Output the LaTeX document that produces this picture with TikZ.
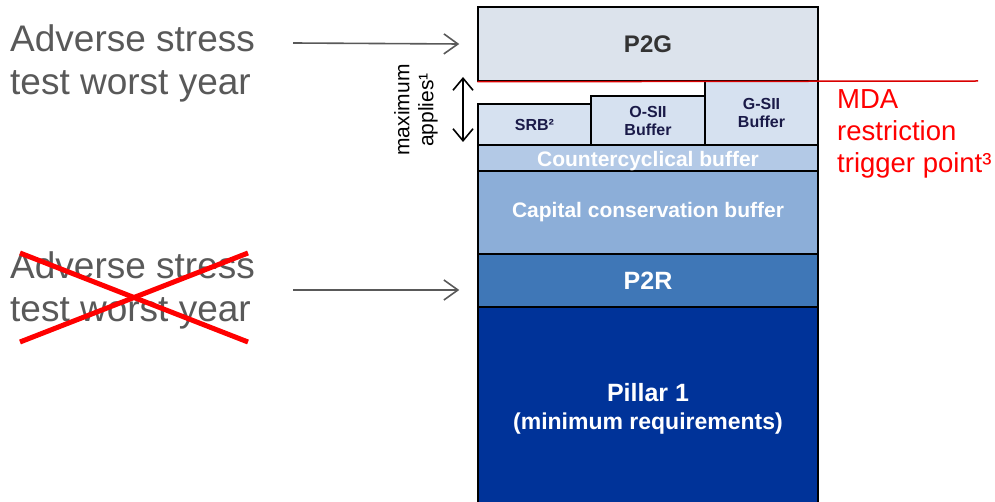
\documentclass[tikz,border=0pt]{standalone}
\usepackage{fontspec}
\setmainfont{Liberation Sans}
\usetikzlibrary{arrows.meta,positioning}
\definecolor{pgray}{RGB}{220,227,236}
\definecolor{bufblue}{RGB}{214,225,240}
\definecolor{ccyblue}{RGB}{179,201,230}
\definecolor{ccbblue}{RGB}{140,174,216}
\definecolor{ptworblue}{RGB}{63,119,183}
\definecolor{pillarblue}{RGB}{0,51,153}
\definecolor{navytext}{RGB}{26,26,72}
\definecolor{darktext}{RGB}{51,51,51}
\definecolor{greytext}{RGB}{89,89,89}
\definecolor{mdared}{RGB}{255,0,0}

\begin{document}
\begin{tikzpicture}[x=1pt,y=-1pt,
  layer/.style={draw, line width=1.5pt, rectangle, inner sep=0pt, minimum width=340pt, text=white, align=center},
  bufbox/.style={draw, line width=1.5pt, rectangle, fill=bufblue, inner sep=0pt, minimum width=113pt, font=\fontsize{16}{18}\selectfont\bfseries, text=navytext, align=center},
  greyarrow/.style={-{Straight Barb[length=14pt,width=20pt]}, line width=1.6pt, greytext},
  sidetext/.style={anchor=west, align=left, inner sep=0pt, text=greytext, font=\fontsize{37}{43}\selectfont}
  ]
  \useasboundingbox (0,0) rectangle (995,502);

  % capital stack
  \node[layer, fill=pillarblue, minimum height=200pt] (p1) at (648,407) {};
  \node[text=white, font=\fontsize{25}{30}\selectfont\bfseries] (p1a) at (648,393) {Pillar 1};
  \node[text=white, font=\fontsize{23}{27}\selectfont\bfseries] (p1b) at (648,424) {(minimum requirements)};
  \node[layer, fill=ptworblue, minimum height=53pt, font=\fontsize{25}{29}\selectfont\bfseries] (p2r) at (648,280.5) {P2R};
  \node[layer, fill=ccbblue, minimum height=83pt, font=\fontsize{21}{25}\selectfont\bfseries] (ccb) at (648,212.5) {Capital conservation buffer};
  \node[layer, fill=ccyblue, minimum height=26pt, font=\fontsize{19}{22}\selectfont\bfseries] (ccyb) at (648,158) {};
  \node[text=white, font=\fontsize{21}{25}\selectfont\bfseries] (ccyba) at (648,161) {Countercyclical buffer};
  \node[bufbox, minimum height=41pt] (srb) at (534.5,124.5) {SRB²};
  \node[bufbox, minimum height=49pt, minimum width=114pt] (osii) at (648,120.5) {O-SII\\Buffer};
  \node[bufbox, minimum height=64pt] (gsii) at (761.5,113) {G-SII\\Buffer};
  \node[layer, fill=pgray, minimum height=74pt, text=darktext, font=\fontsize{24}{28}\selectfont\bfseries] (p2g) at (648,44) {P2G};

  % MDA trigger
  \coordinate (mdaend) at (978,81);
  \draw[mdared!85!black, line width=1.5pt] (p2g.south west) -- (mdaend);
  \node[anchor=north west, align=left, inner sep=0pt, text=mdared, font=\fontsize{27.5}{32}\selectfont] (mda) at (837,89) {MDA\\restriction\\trigger point³};

  % maximum applies
  \coordinate (maxtop) at (463,77);
  \coordinate (maxbot) at (463,142);
  \draw[{Straight Barb[length=12pt,width=20pt]}-{Straight Barb[length=12pt,width=20pt]}, line width=1.6pt] (maxtop) -- (maxbot);
  \node[rotate=90, align=center, inner sep=0pt, font=\fontsize{21}{24}\selectfont] (maxlbl) at (416,110) {maximum\\applies¹};

  % stress test labels
  \node[sidetext] (stress1) at (10,63) {Adverse stress\\test worst year};
  \coordinate (a1s) at (293,43);
  \draw[greyarrow] (a1s) -- ([xshift=-18pt]p2g.west);

  \node[sidetext] (stress2) at (10,290) {Adverse stress\\test worst year};
  \coordinate (a2s) at (293,290);
  \draw[greyarrow] (a2s) -- ([xshift=-18pt,yshift=-9.5pt]p2r.west);

  % cross
  \coordinate (xa) at (20,253);
  \coordinate (xb) at (248,342);
  \coordinate (xc) at (20,342);
  \coordinate (xd) at (248,253);
  \draw[mdared, line width=5pt] (xa) -- (xb);
  \draw[mdared, line width=5pt] (xc) -- (xd);
\end{tikzpicture}
\end{document}
